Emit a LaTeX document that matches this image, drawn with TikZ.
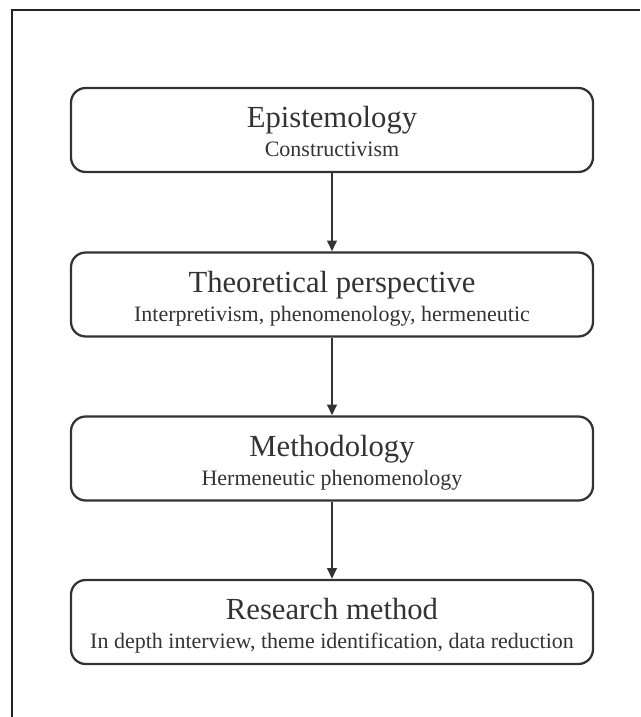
\documentclass[tikz,border=0pt]{standalone}
\usepackage{fontspec}
\setmainfont{Liberation Serif}
\usetikzlibrary{arrows.meta}
\definecolor{ink}{HTML}{333333}
\definecolor{frame}{HTML}{222222}
\begin{document}
\begin{tikzpicture}[x=0.75pt,y=-0.75pt,
  stagebox/.style={draw=ink, line width=1.7pt, rounded corners=11pt,
    minimum width=391.5pt, minimum height=63pt, inner sep=0pt},
  ttl/.style={anchor=base, text=ink, inner sep=0pt, font=\fontsize{23}{27}\selectfont},
  sub/.style={anchor=base, text=ink, inner sep=0pt, font=\fontsize{16.5}{20}\selectfont},
  flow/.style={draw=ink, line width=2pt, -{Triangle[length=8pt,width=7pt]}},
]
\useasboundingbox (0,0) rectangle (640,717);
% frame: only the top and left edges are drawn
\draw[frame, line width=2.2pt] (640,10) -- (12,10) -- (12,717);

% the four stages
\node[stagebox] (epi)  at (332,130) {};
\node[stagebox] (theo) at (332,294.5) {};
\node[stagebox] (meth) at (332,458.5) {};
\node[stagebox] (res)  at (332,622) {};

% titles and descriptions, set on fixed baselines inside each box
\node[ttl] (epiT)  at ([yshift=-30.75pt]epi.north)  {Epistemology};
\node[sub] (epiS)  at ([yshift=-52.5pt]epi.north)   {Constructivism};
\node[ttl] (theoT) at ([yshift=-30.75pt]theo.north) {Theoretical perspective};
\node[sub] (theoS) at ([yshift=-52.5pt]theo.north)  {Interpretivism, phenomenology, hermeneutic};
\node[ttl] (methT) at ([yshift=-30.75pt]meth.north) {Methodology};
\node[sub] (methS) at ([yshift=-52.5pt]meth.north)  {Hermeneutic phenomenology};
\node[ttl] (resT)  at ([yshift=-30.75pt]res.north)  {Research method};
\node[sub] (resS)  at ([yshift=-52.5pt]res.north)   {In depth interview, theme identification, data reduction};

\draw[flow] (epi) -- (theo);
\draw[flow] (theo) -- (meth);
\draw[flow] (meth) -- (res);
\end{tikzpicture}
\end{document}
